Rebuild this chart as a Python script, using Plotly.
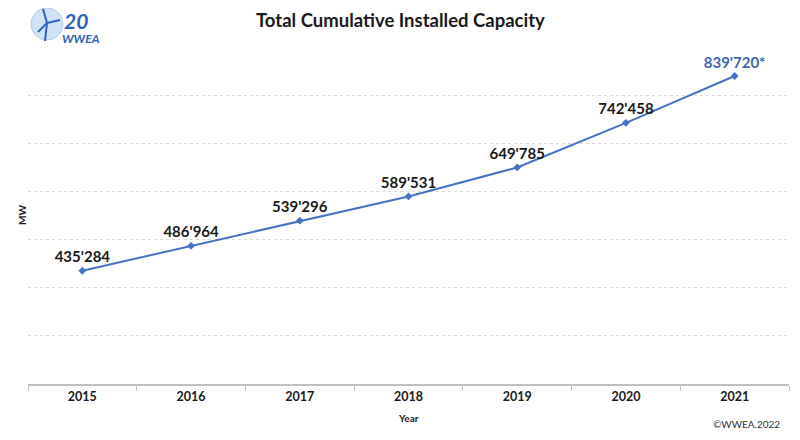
import plotly.graph_objects as go

years = ["2015", "2016", "2017", "2018", "2019", "2020", "2021"]
capacity_mw = [435284, 486964, 539296, 589531, 649785, 742458, 839720]
label_suffix = ["", "", "", "", "", "", "*"]
label_colors = ["#1a1a1a"] * 6 + ["#3f67b0"]

labels = [f"{v:,}".replace(",", "'") + s for v, s in zip(capacity_mw, label_suffix)]

FONT = "Lato, 'Open Sans', sans-serif"

fig = go.Figure()
fig.add_trace(go.Scatter(
    x=years, y=capacity_mw, mode="lines+markers+text",
    line=dict(color="#4472C4", width=2),
    marker=dict(symbol="diamond", size=6, color="#4472C4"),
    text=labels, textposition="top center",
    textfont=dict(family=FONT, size=15, color=label_colors, weight="bold"),
    hoverinfo="skip", cliponaxis=False,
))

# page body has an 8px margin, so the figure is 792x432 drawn at offset (8, 8)
fig.update_layout(
    width=792, height=432,
    margin=dict(l=20, r=11, t=39, b=56, autoexpand=False),
    paper_bgcolor="white", plot_bgcolor="white",
    showlegend=False,
    xaxis=dict(
        type="category", range=[-0.5, len(years) - 0.5],
        showgrid=False, showline=True, linecolor="#bfbfbf", linewidth=1.5,
        tickson="boundaries", ticks="outside", ticklen=5, tickcolor="#bfbfbf",
        tickfont=dict(family=FONT, size=12.5, color="#1a1a1a", weight="bold"),
        zeroline=False, automargin=False,
    ),
    yaxis=dict(
        range=[200000, 900000], dtick=100000, showticklabels=False,
        showgrid=True, gridcolor="#d9d9d9", griddash="dot", gridwidth=1,
        showline=False, zeroline=False, ticks="", automargin=False,
    ),
)

# screen pixel -> paper coords (plot area on screen: x 28..789, y 47..384)
def px(xp):
    return (xp - 28) / 761

def py(yp):
    return (384 - yp) / 337

# Title and axis titles
fig.add_annotation(xref="paper", yref="paper", x=px(400), y=py(20), xanchor="center", yanchor="middle",
                   text="<b>Total Cumulative Installed Capacity</b>", showarrow=False,
                   font=dict(family=FONT, size=18.5, color="#1a1a1a"))
fig.add_annotation(xref="paper", yref="paper", x=px(408), y=py(418),
                   xanchor="center", yanchor="middle", text="<b>Year</b>", showarrow=False,
                   font=dict(family=FONT, size=10, color="#1a1a1a"))
fig.add_annotation(xref="paper", yref="paper", x=px(22), y=py(215),
                   xanchor="center", yanchor="middle", text="<b>MW</b>", textangle=-90, showarrow=False,
                   font=dict(family=FONT, size=10, color="#1a1a1a"))

# logo approximation
fig.add_shape(type="circle", xref="paper", yref="paper",
              x0=px(31), x1=px(63), y0=py(40), y1=py(8),
              fillcolor="#cfe3f5", line=dict(color="#a9c9ea", width=1), layer="above")
for (a, b, c, d) in [(45, 41, 47, 23), (47, 23, 43, 9), (47, 23, 60, 20), (47, 23, 38, 32)]:
    fig.add_shape(type="line", xref="paper", yref="paper", x0=px(a), y0=py(b), x1=px(c), y1=py(d),
                  line=dict(color="#2b63b8", width=2))
fig.add_annotation(xref="paper", yref="paper", x=px(62), y=py(20), xanchor="left", yanchor="middle",
                   text="<b><i>20</i></b>", showarrow=False,
                   font=dict(family=FONT, size=21, color="#2b63b8"))
fig.add_annotation(xref="paper", yref="paper", x=px(60), y=py(38), xanchor="left", yanchor="middle",
                   text="<b><i>WWEA</i></b>", showarrow=False,
                   font=dict(family=FONT, size=12, color="#2b63b8"))

fig.add_annotation(xref="paper", yref="paper", x=px(782), y=py(424), xanchor="right", yanchor="middle",
                   text="©WWEA.2022", showarrow=False,
                   font=dict(family=FONT, size=10, color="#333333"))

fig.write_html("out.html")
